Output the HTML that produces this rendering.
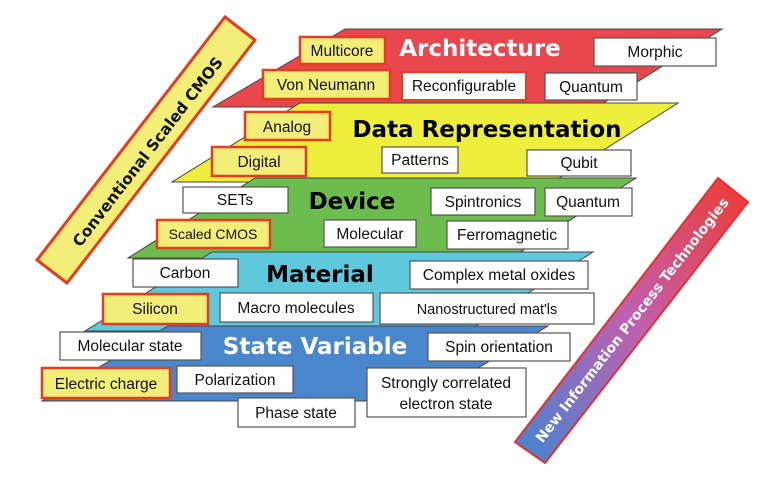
<!DOCTYPE html>
<html><head><meta charset="utf-8"><style>
html,body{margin:0;padding:0;background:#fff;width:782px;height:478px;overflow:hidden}
svg text{font-family:"Liberation Sans",Arial,sans-serif}
.t{font-family:"DejaVu Sans",Verdana,sans-serif;font-weight:bold}
</style></head><body>
<svg width="782" height="478" viewBox="0 0 782 478" xmlns="http://www.w3.org/2000/svg">
<defs>
<linearGradient id="g" x1="0" y1="1" x2="1" y2="0" gradientUnits="objectBoundingBox">
<stop offset="0" stop-color="#3f86d0"/><stop offset="0.5" stop-color="#c060b0"/><stop offset="1" stop-color="#f03a30"/>
</linearGradient>
</defs>
<polygon points="345,29 722,29 597,107 213,107" fill="#e8474d" stroke="#444" stroke-width="1"/>
<polygon points="300,103 678,103 553,182 172,182" fill="#eeee3c" stroke="#444" stroke-width="1"/>
<polygon points="255,178 636,178 511,258 128,258" fill="#6dbd4e" stroke="#444" stroke-width="1"/>
<polygon points="212,252 593,252 468,331 85,331" fill="#5ec8dc" stroke="#444" stroke-width="1"/>
<polygon points="168,326 548,326 423,401 42,401" fill="#4a86cc" stroke="#444" stroke-width="1"/>

<text class="t" x="480" y="56" font-size="23" fill="#fff" text-anchor="middle">Architecture</text>
<text class="t" x="487" y="137" font-size="23" fill="#000" text-anchor="middle">Data Representation</text>
<text class="t" x="352" y="209" font-size="23" fill="#000" text-anchor="middle">Device</text>
<text class="t" x="320" y="282" font-size="23" fill="#000" text-anchor="middle">Material</text>
<text class="t" x="315" y="354" font-size="23" fill="#fff" text-anchor="middle">State Variable</text>

<g font-size="15.5" fill="#111" text-anchor="middle">
<g fill="#f2ee78" stroke="#e83c1e" stroke-width="2.5">
<rect x="300" y="37" width="85" height="27"/>
<rect x="263" y="70" width="127" height="29"/>
<rect x="245" y="112" width="85" height="28"/>
<rect x="212" y="147" width="94" height="29"/>
<rect x="157" y="220" width="113" height="28"/>
<rect x="103" y="294" width="105" height="30"/>
<rect x="42" y="368" width="128" height="30"/>
</g>
<rect x="402" y="72" width="124" height="28" fill="#fff" stroke="#e83c1e" stroke-width="2"/>
<g fill="#fff" stroke="#555" stroke-width="1.2">
<rect x="594" y="38" width="122" height="28"/>
<rect x="545" y="73" width="92" height="27"/>
<rect x="382" y="147" width="76" height="26"/>
<rect x="527" y="150" width="104" height="26"/>
<rect x="183" y="187" width="105" height="26"/>
<rect x="431" y="188" width="104" height="27"/>
<rect x="545" y="188" width="87" height="28"/>
<rect x="324" y="220" width="92" height="27"/>
<rect x="447" y="221" width="121" height="28"/>
<rect x="133" y="259" width="105" height="28"/>
<rect x="410" y="261" width="178" height="28"/>
<rect x="220" y="293" width="153" height="29"/>
<rect x="380" y="293" width="214" height="31"/>
<rect x="60" y="332" width="141" height="28"/>
<rect x="428" y="333" width="142" height="28"/>
<rect x="177" y="366" width="116" height="27"/>
<rect x="367" y="368" width="159" height="49"/>
<rect x="238" y="398" width="117" height="29"/>
</g>
<text x="342" y="56">Multicore</text>
<text x="326" y="90">Von Neumann</text>
<text x="464" y="91">Reconfigurable</text>
<text x="655" y="57">Morphic</text>
<text x="591" y="92">Quantum</text>
<text x="287" y="132">Analog</text>
<text x="259" y="167">Digital</text>
<text x="420" y="165">Patterns</text>
<text x="579" y="168">Qubit</text>
<text x="235" y="205">SETs</text>
<text x="483" y="207">Spintronics</text>
<text x="588" y="207">Quantum</text>
<text x="213" y="239" font-size="14">Scaled CMOS</text>
<text x="370" y="239">Molecular</text>
<text x="507" y="240">Ferromagnetic</text>
<text x="185" y="278">Carbon</text>
<text x="499" y="280">Complex metal oxides</text>
<text x="155" y="314">Silicon</text>
<text x="296" y="313">Macro molecules</text>
<text x="487" y="314" font-size="14.5">Nanostructured mat'ls</text>
<text x="130" y="351">Molecular state</text>
<text x="499" y="352">Spin orientation</text>
<text x="106" y="389">Electric charge</text>
<text x="235" y="385">Polarization</text>
<text x="446" y="388">Strongly correlated</text>
<text x="446" y="409">electron state</text>
<text x="296" y="418">Phase state</text>
</g>

<polygon points="225,17 255,40 67,283 37,260" fill="#f2ee78" stroke="#e83c1e" stroke-width="3"/>
<text class="t" x="0" y="0" font-size="15.5" fill="#111" text-anchor="middle" transform="translate(148,152) rotate(-52.3)" dy="5">Conventional Scaled CMOS</text>

<polygon points="718,178 748,202 545,463 515,442" fill="url(#g)" stroke="#e8302a" stroke-width="2"/>
<text class="t" x="0" y="0" font-size="14" fill="#fff" text-anchor="middle" transform="translate(632,320) rotate(-52.2)" dy="5">New Information Process Technologies</text>
</svg>
</body></html>
